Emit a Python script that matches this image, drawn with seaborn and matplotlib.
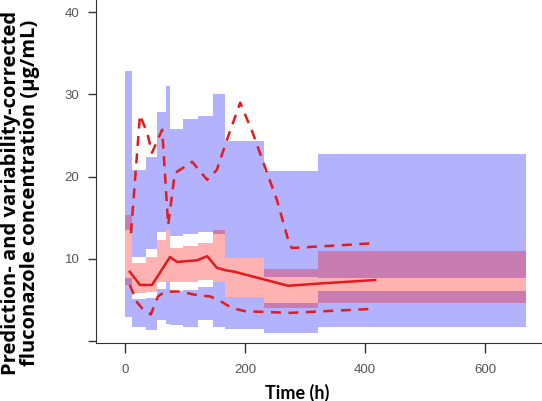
import matplotlib
matplotlib.use("Agg")
import matplotlib.pyplot as plt
import seaborn as sns

# bin edges (h) of the VPC
bin_edges = [0, 12, 35, 53, 68, 75, 97, 122, 147, 167, 232, 322, 668]

# 95% CI of the simulated 95th percentile
p95_ci_hi = [32.8, 20.8, 22.4, 27.9, 31.0, 25.8, 27.0, 27.4, 30.0, 24.3, 20.7, 22.7]
p95_ci_lo = [13.5, 10.2, 11.2, 13.3, 13.5, 12.8, 13.0, 13.25, 13.0, 10.1, 7.8, 7.6]
# 95% CI of the simulated median
p50_ci_hi = [15.3, 9.5, 10.2, 12.3, 13.5, 11.3, 11.5, 11.9, 13.5, 10.1, 8.8, 10.9]
p50_ci_lo = [6.8, 5.8, 6.0, 7.2, 7.2, 7.1, 7.2, 7.4, 7.2, 5.3, 4.0, 4.6]
# 95% CI of the simulated 5th percentile
p05_ci_hi = [7.7, 5.1, 5.2, 6.3, 7.2, 6.1, 6.2, 6.5, 7.2, 5.3, 4.6, 6.1]
p05_ci_lo = [2.9, 1.7, 1.3, 2.5, 2.0, 1.9, 1.7, 2.5, 1.7, 1.4, 0.9, 1.7]

# observed percentiles
obs50_t = [8, 25, 45, 75, 87, 120, 137, 153, 167, 183, 272, 330, 417]
obs50_v = [8.4, 6.8, 6.8, 10.2, 9.6, 9.8, 10.3, 8.9, 8.6, 8.4, 6.7, 7.0, 7.4]
obs95_t = [10, 25, 37, 45, 62, 72, 83, 112, 137, 153, 170, 192, 213, 237, 253, 272, 278, 375, 417]
obs95_v = [13.1, 27.5, 25.3, 22.9, 25.7, 14.1, 20.4, 21.8, 19.6, 20.8, 24.5, 29.0, 25.3, 20.4, 17.2, 12.3, 11.3, 11.7, 11.9]
obs05_t = [8, 20, 28, 43, 55, 67, 92, 117, 142, 162, 178, 200, 237, 275, 417]
obs05_v = [6.8, 4.7, 4.0, 3.2, 5.4, 6.0, 6.0, 5.6, 5.4, 4.7, 4.0, 3.6, 3.5, 3.4, 3.9]

fig = plt.figure(figsize=(5.42, 4.01), dpi=100)
ax = fig.add_axes([96 / 542, 58 / 401, 446 / 542, 343 / 401])

def band(lo, hi, color):
    ax.fill_between(bin_edges, lo + [lo[-1]], hi + [hi[-1]], step='post',
                    color=color, alpha=0.3, linewidth=0)

band(p95_ci_lo, p95_ci_hi, 'blue')
band(p05_ci_lo, p05_ci_hi, 'blue')
band(p50_ci_lo, p50_ci_hi, 'red')

red = '#e41a1c'
sns.lineplot(x=obs50_t, y=obs50_v, color=red, linewidth=1.8, ax=ax)
sns.lineplot(x=obs95_t, y=obs95_v, color=red, linewidth=1.8, linestyle=(0, (4, 3)), ax=ax)
sns.lineplot(x=obs05_t, y=obs05_v, color=red, linewidth=1.8, linestyle=(0, (4, 3)), ax=ax)

ax.set_xlim(-48.3, 695)
ax.set_ylim(-0.27, 41.5)
ax.set_xticks([0, 200, 400, 600])
ax.set_yticks([0, 10, 20, 30, 40])
ax.set_yticklabels(['', '10', '20', '30', '40'])
for s in ['top', 'right']:
    ax.spines[s].set_visible(False)
for s in ['left', 'bottom']:
    ax.spines[s].set_color('#333333')
ax.tick_params(axis='x', length=7, width=1, color='#333333', pad=8,
               labelsize=9.5, labelcolor='#555555')
ax.tick_params(axis='y', length=6, width=1, color='#333333', pad=6,
               labelsize=9.5, labelcolor='#555555')
for lab in ax.get_xticklabels() + ax.get_yticklabels():
    lab.set_family('Liberation Sans')

ax.set_xlabel('Time (h)', family='Lato', fontweight='bold', fontsize=13)
ax.set_ylabel('Prediction- and variability-corrected\nfluconazole concentration (µg/mL)',
              family='Open Sans', fontweight='bold', fontsize=14.5, linespacing=0.92)
ax.xaxis.set_label_coords(0.451, -0.12)
ax.yaxis.set_label_coords(-0.126, 0.437)

fig.savefig('out.png', dpi=100)
